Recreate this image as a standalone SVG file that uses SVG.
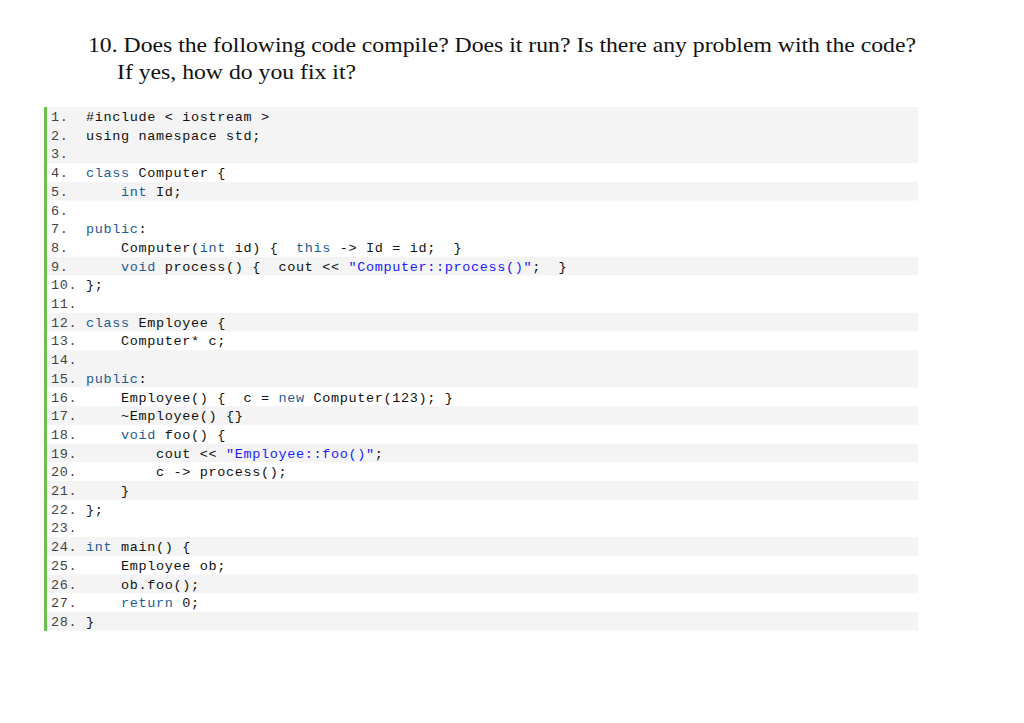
<svg xmlns="http://www.w3.org/2000/svg" width="1024" height="723" viewBox="0 0 1024 723">
<style>
.t{font-family:"Liberation Serif",serif;font-size:21px;fill:#111}
.c{font-family:"Liberation Mono","DejaVu Sans Mono",monospace;font-size:13.5px;letter-spacing:0.65px;fill:#111;white-space:pre}
.n{fill:#444}.k{fill:#1f5b94}.s{fill:#1a1aff}
.g{fill:#f4f4f4}
</style>
<rect width="1024" height="723" fill="#fff"/>
<g id="title">
<text class="t" x="88" y="52" textLength="828" lengthAdjust="spacingAndGlyphs">10. Does the following code compile? Does it run? Is there any problem with the code?</text>
<text class="t" x="117" y="79" textLength="239" lengthAdjust="spacingAndGlyphs">If yes, how do you fix it?</text>
</g>
<g id="bands">
<rect class="g" x="47" y="107" width="871" height="56.1"/>
<rect class="g" x="47" y="181.8" width="871" height="18.7"/>
<rect class="g" x="47" y="256.6" width="871" height="18.7"/>
<rect class="g" x="47" y="312.7" width="871" height="18.7"/>
<rect class="g" x="47" y="350.1" width="871" height="37.4"/>
<rect class="g" x="47" y="406.2" width="871" height="18.7"/>
<rect class="g" x="47" y="443.6" width="871" height="18.7"/>
<rect class="g" x="47" y="481" width="871" height="18.7"/>
<rect class="g" x="47" y="537.1" width="871" height="18.7"/>
<rect class="g" x="47" y="574.5" width="871" height="18.7"/>
<rect class="g" x="47" y="611.9" width="871" height="18.7"/>
<rect x="44" y="107" width="3" height="524" fill="#6cc24a"/>
</g>
<g id="code">
<text class="c" x="51" y="121"><tspan class="n">1.  </tspan>#include &lt; iostream &gt;</text>
<text class="c" x="51" y="139.7"><tspan class="n">2.  </tspan>using namespace std;</text>
<text class="c" x="51" y="158.4"><tspan class="n">3.</tspan></text>
<text class="c" x="51" y="177.1"><tspan class="n">4.  </tspan><tspan class="k">class</tspan> Computer {</text>
<text class="c" x="51" y="195.8"><tspan class="n">5.      </tspan><tspan class="k">int</tspan> Id;</text>
<text class="c" x="51" y="214.5"><tspan class="n">6.</tspan></text>
<text class="c" x="51" y="233.2"><tspan class="n">7.  </tspan><tspan class="k">public</tspan>:</text>
<text class="c" x="51" y="251.9"><tspan class="n">8.      </tspan>Computer(<tspan class="k">int</tspan> id) {  <tspan class="k">this</tspan> -&gt; Id = id;  }</text>
<text class="c" x="51" y="270.6"><tspan class="n">9.      </tspan><tspan class="k">void</tspan> process() {  cout &lt;&lt; <tspan class="s">"Computer::process()"</tspan>;  }</text>
<text class="c" x="51" y="289.3"><tspan class="n">10. </tspan>};</text>
<text class="c" x="51" y="308"><tspan class="n">11.</tspan></text>
<text class="c" x="51" y="326.7"><tspan class="n">12. </tspan><tspan class="k">class</tspan> Employee {</text>
<text class="c" x="51" y="345.4"><tspan class="n">13.     </tspan>Computer* c;</text>
<text class="c" x="51" y="364.1"><tspan class="n">14.</tspan></text>
<text class="c" x="51" y="382.8"><tspan class="n">15. </tspan><tspan class="k">public</tspan>:</text>
<text class="c" x="51" y="401.5"><tspan class="n">16.     </tspan>Employee() {  c = <tspan class="k">new</tspan> Computer(123); }</text>
<text class="c" x="51" y="420.2"><tspan class="n">17.     </tspan>~Employee() {}</text>
<text class="c" x="51" y="438.9"><tspan class="n">18.     </tspan><tspan class="k">void</tspan> foo() {</text>
<text class="c" x="51" y="457.6"><tspan class="n">19.         </tspan>cout &lt;&lt; <tspan class="s">"Employee::foo()"</tspan>;</text>
<text class="c" x="51" y="476.3"><tspan class="n">20.         </tspan>c -&gt; process();</text>
<text class="c" x="51" y="495"><tspan class="n">21.     </tspan>}</text>
<text class="c" x="51" y="513.7"><tspan class="n">22. </tspan>};</text>
<text class="c" x="51" y="532.4"><tspan class="n">23.</tspan></text>
<text class="c" x="51" y="551.1"><tspan class="n">24. </tspan><tspan class="k">int</tspan> main() {</text>
<text class="c" x="51" y="569.8"><tspan class="n">25.     </tspan>Employee ob;</text>
<text class="c" x="51" y="588.5"><tspan class="n">26.     </tspan>ob.foo();</text>
<text class="c" x="51" y="607.2"><tspan class="n">27.     </tspan><tspan class="k">return</tspan> 0;</text>
<text class="c" x="51" y="625.9"><tspan class="n">28. </tspan>}</text>
</g>
</svg>
